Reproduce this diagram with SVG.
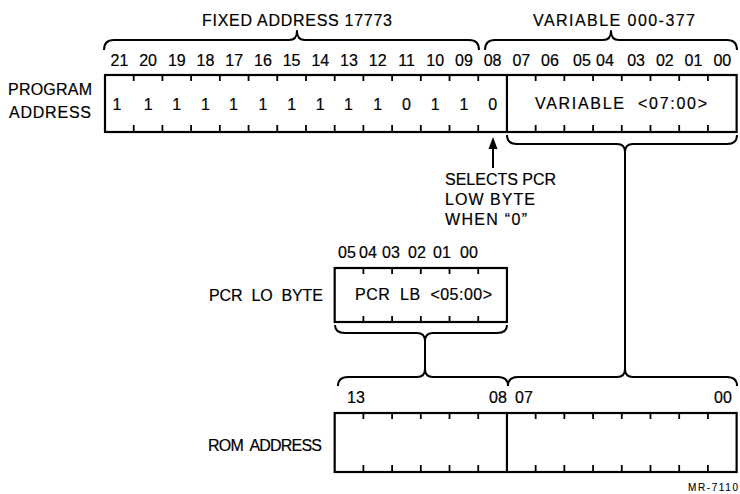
<svg xmlns="http://www.w3.org/2000/svg" width="740" height="494" viewBox="0 0 740 494" xml:space="preserve">
<style>
  text { font-family: "Liberation Sans", Arial, Helvetica, sans-serif; font-size: 16px; fill: #000; stroke: #000; stroke-width: 0.2; white-space: pre; }
  .c { text-anchor: middle; }
  .r { text-anchor: end; }
  .box { fill: none; stroke: #000; stroke-width: 2.2; }
  .tick { fill: none; stroke: #000; stroke-width: 1.8; }
  .brace { fill: none; stroke: #000; stroke-width: 2; stroke-linejoin: round; }
  .line { fill: none; stroke: #000; stroke-width: 2; }
</style>
<rect width="740" height="494" fill="#fff"/>
<g id="fixed-address">
<text x="202" y="26" textLength="190" lengthAdjust="spacing">FIXED ADDRESS 17773</text>
<path class="brace" d="M104,50 Q104,40 114,40 L289,40 Q297,40 297,31 Q297,40 305,40 L469,40 Q479,40 479,50"/>
</g>
<g id="variable-range">
<text x="533" y="26" textLength="162" lengthAdjust="spacing">VARIABLE 000-377</text>
<path class="brace" d="M485,50 Q485,40 495,40 L603,40 Q611,40 611,31 Q611,40 619,40 L727,40 Q737,40 737,50"/>
</g>
<g id="program-address">
<text x="92" y="95" class="r" textLength="84" lengthAdjust="spacing">PROGRAM</text>
<text x="91" y="118" class="r" textLength="82" lengthAdjust="spacing">ADDRESS</text>
<g class="c">
<text x="119.4" y="66">21</text><text x="148.1" y="66">20</text><text x="176.8" y="66">19</text>
<text x="205.5" y="66">18</text><text x="234.2" y="66">17</text><text x="262.9" y="66">16</text>
<text x="291.6" y="66">15</text><text x="320.3" y="66">14</text><text x="349" y="66">13</text>
<text x="377.7" y="66">12</text><text x="406.5" y="66">11</text><text x="435.2" y="66">10</text>
<text x="463.9" y="66">09</text><text x="492.6" y="66">08</text><text x="521.3" y="66">07</text>
<text x="550" y="66">06</text><text x="582" y="66">05</text><text x="605" y="66">04</text>
<text x="636.1" y="66">03</text><text x="664.8" y="66">02</text><text x="693.5" y="66">01</text>
<text x="722.3" y="66">00</text>
</g>
<rect class="box" x="105" y="75" width="631.62" height="57"/>
<line class="box" x1="506.94" y1="75" x2="506.94" y2="132"/>
<path class="tick" d="M133.71,75v6M162.42,75v6M191.13,75v6M219.84,75v6M248.55,75v6M277.26,75v6M305.97,75v6M334.68,75v6M363.39,75v6M392.1,75v6M420.81,75v6M449.52,75v6M478.23,75v6M535.65,75v6M564.36,75v6M593.07,75v6M621.78,75v6M650.49,75v6M679.2,75v6M707.91,75v6 M133.71,132v-7M162.42,132v-7M191.13,132v-7M219.84,132v-7M248.55,132v-7M277.26,132v-7M305.97,132v-7M334.68,132v-7M363.39,132v-7M392.1,132v-7M420.81,132v-7M449.52,132v-7M478.23,132v-7M535.65,132v-7M564.36,132v-7M593.07,132v-7M621.78,132v-7M650.49,132v-7M679.2,132v-7M707.91,132v-7"/>
<g class="c">
<text x="117" y="110">1</text><text x="148.1" y="110">1</text><text x="176.8" y="110">1</text>
<text x="205.5" y="110">1</text><text x="233.5" y="110">1</text><text x="262.9" y="110">1</text>
<text x="291.6" y="110">1</text><text x="320.3" y="110">1</text><text x="348.5" y="110">1</text>
<text x="377.7" y="110">1</text><text x="406.5" y="110">0</text><text x="435.2" y="110">1</text>
<text x="463.9" y="110">1</text><text x="492.6" y="110">0</text>
</g>
<text x="535" y="109" textLength="172" lengthAdjust="spacing">VARIABLE  &lt;07:00&gt;</text>
</g>
<g id="selects-note">
<text x="445" y="185">SELECTS PCR</text>
<text x="445" y="205" textLength="90" lengthAdjust="spacing">LOW BYTE</text>
<text x="445" y="225" textLength="82" lengthAdjust="spacing">WHEN “0”</text>
</g>
<g id="pcr-lo-byte">
<text x="323" y="301" class="r" textLength="114" lengthAdjust="spacing">PCR  LO  BYTE</text>
<g class="c">
<text x="347" y="258">05</text><text x="368" y="258">04</text><text x="391" y="258">03</text>
<text x="417" y="258">02</text><text x="442" y="258">01</text><text x="469" y="258">00</text>
</g>
<rect class="box" x="334.68" y="268" width="172.26" height="54"/>
<path class="tick" d="M363.39,268v6M392.1,268v6M420.81,268v6M449.52,268v6M478.23,268v6M363.39,322v-6M392.1,322v-6M420.81,322v-6M449.52,322v-6M478.23,322v-6"/>
<text x="355" y="300" textLength="137" lengthAdjust="spacing">PCR  LB  &lt;05:00&gt;</text>
</g>
<g id="rom-address">
<text x="322" y="451" class="r" textLength="114" lengthAdjust="spacing">ROM  ADDRESS</text>
<text x="347" y="403">13</text>
<text x="489" y="403">08</text>
<text x="515" y="403">07</text>
<text x="714" y="403">00</text>
<rect class="box" x="334.68" y="413" width="401.94" height="59"/>
<line class="box" x1="506.94" y1="413" x2="506.94" y2="472"/>
<path class="tick" d="M363.39,413v6M392.1,413v6M420.81,413v6M449.52,413v6M478.23,413v6M535.65,413v6M564.36,413v6M593.07,413v6M621.78,413v6M650.49,413v6M679.2,413v6M707.91,413v6 M363.39,472v-7M392.1,472v-7M420.81,472v-7M449.52,472v-7M478.23,472v-7M535.65,472v-7M564.36,472v-7M593.07,472v-7M621.78,472v-7M650.49,472v-7M679.2,472v-7M707.91,472v-7"/>
</g>
<g id="connectors">
<path class="brace" d="M507,135 Q507,144 517,144 L617,144 Q625,144 625,152 Q625,144 633,144 L727,144 Q737,144 737,135"/>
<line class="line" x1="625" y1="152" x2="625" y2="369"/>
<path class="brace" d="M335,325 Q335,333 345,333 L417,333 Q425,333 425,341 Q425,333 433,333 L497,333 Q507,333 507,325"/>
<line class="line" x1="425" y1="341" x2="425" y2="369"/>
<path class="brace" d="M338,386 Q338,377 348,377 L417,377 Q425,377 425,369 Q425,377 433,377 L498,377 Q508,377 508,386"/>
<path class="brace" d="M508,386 Q508,377 518,377 L617,377 Q625,377 625,369 Q625,377 633,377 L727,377 Q737,377 737,386"/>
<line class="line" x1="493" y1="146" x2="493" y2="168"/>
<path d="M493,137 L497.5,149 L488.5,149 Z" fill="#000"/>
</g>
<text x="738" y="491" class="r" style="font-size:10px;stroke-width:0.1" textLength="50" lengthAdjust="spacing">MR-7110</text>
</svg>
